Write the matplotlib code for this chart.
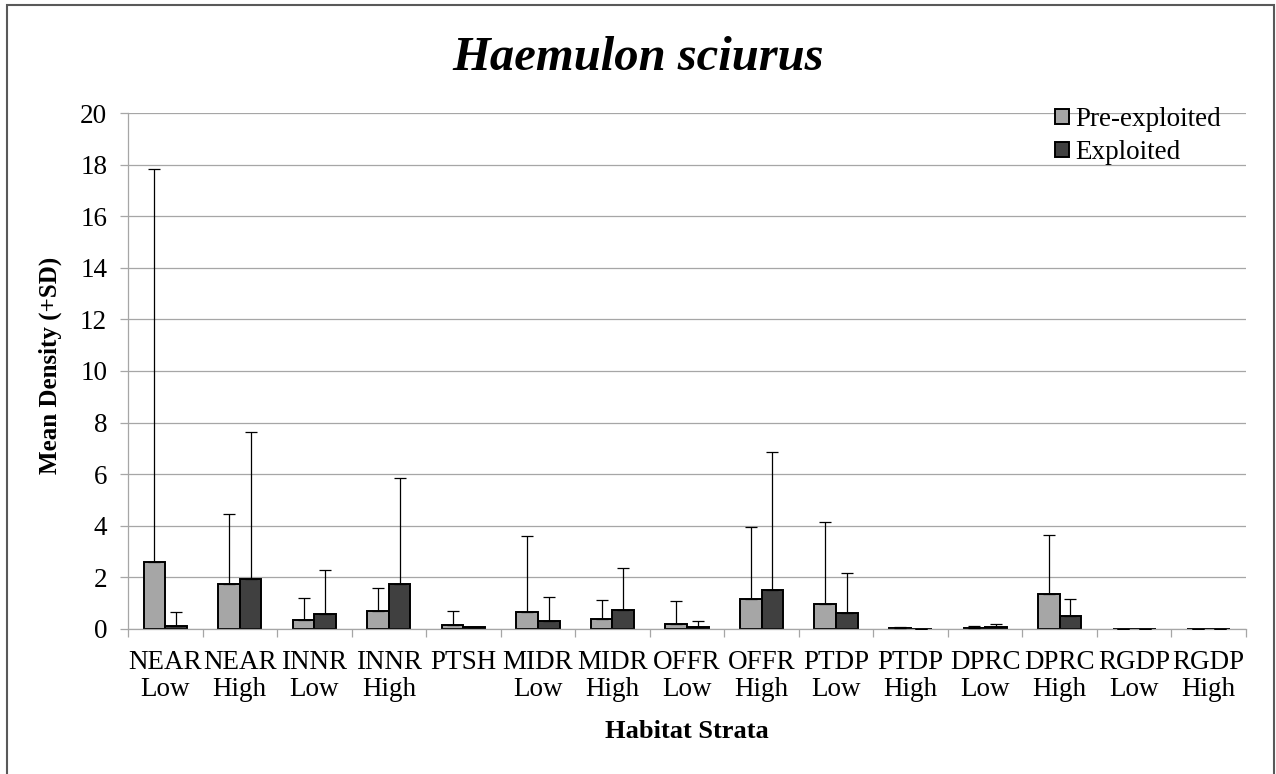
import numpy as np
import matplotlib
matplotlib.use("Agg")
import matplotlib.pyplot as plt
from matplotlib.patches import Rectangle

plt.rcParams['font.family'] = ['Liberation Serif', 'DejaVu Serif']

categories = ["NEAR\nLow", "NEAR\nHigh", "INNR\nLow", "INNR\nHigh", "PTSH",
              "MIDR\nLow", "MIDR\nHigh", "OFFR\nLow", "OFFR\nHigh", "PTDP\nLow",
              "PTDP\nHigh", "DPRC\nLow", "DPRC\nHigh", "RGDP\nLow", "RGDP\nHigh"]
pre_mean = [2.60, 1.75, 0.35, 0.69, 0.14, 0.63, 0.39, 0.18, 1.17, 0.96, 0.03, 0.04, 1.36, 0.0, 0.0]
pre_sd = [15.25, 2.70, 0.83, 0.87, 0.56, 2.97, 0.71, 0.91, 2.78, 3.19, 0.03, 0.06, 2.29, 0.0, 0.0]
exp_mean = [0.12, 1.92, 0.58, 1.72, 0.05, 0.31, 0.71, 0.07, 1.50, 0.60, 0.0, 0.05, 0.50, 0.0, 0.0]
exp_sd = [0.53, 5.73, 1.68, 4.13, 0.02, 0.92, 1.65, 0.21, 5.35, 1.57, 0.0, 0.12, 0.67, 0.0, 0.0]
series_names = ["Pre-exploited", "Exploited"]
yticks = [0, 2, 4, 6, 8, 10, 12, 14, 16, 18, 20]

W, H = 1276, 774
fig = plt.figure(figsize=(W / 100, H / 100), dpi=100)
ax = fig.add_axes([128 / W, 1 - 628.7 / H, 1118 / W, 515.4 / H])

x = np.arange(len(categories))
bw = 0.29
off = 0.145
grid_c = '#a6a6a6'
ax.set_axisbelow(True)
ax.yaxis.grid(True, color=grid_c, linewidth=0.9)

ax.bar(x - off, pre_mean, bw, color='#a6a6a6', edgecolor='black', linewidth=1.4,
       label=series_names[0], zorder=2)
ax.bar(x + off, exp_mean, bw, color='#404040', edgecolor='black', linewidth=1.4,
       label=series_names[1], zorder=2)
zeros = np.zeros(len(categories))
ax.errorbar(x - off, pre_mean, yerr=[zeros, pre_sd], fmt='none', ecolor='black',
            elinewidth=0.9, capsize=4.3, capthick=0.9, zorder=3)
ax.errorbar(x + off, exp_mean, yerr=[zeros, exp_sd], fmt='none', ecolor='black',
            elinewidth=0.9, capsize=4.3, capthick=0.9, zorder=3)

ax.set_xlim(-0.5, len(categories) - 0.5)
ax.set_ylim(0, 20)
ax.set_yticks(yticks)
ax.set_xticks(x)
ax.set_xticklabels(categories, linespacing=1.15)
ax.set_xticks(np.arange(len(categories) + 1) - 0.5, minor=True)

for s in ['top', 'right']:
    ax.spines[s].set_visible(False)
for s in ['left', 'bottom']:
    ax.spines[s].set_color(grid_c)
    ax.spines[s].set_linewidth(0.9)

ax.tick_params(axis='y', direction='out', length=6, width=0.9, color=grid_c,
               labelsize=19.5, pad=9)
ax.tick_params(axis='x', which='major', length=0, labelsize=19.5, pad=15)
ax.tick_params(axis='x', which='minor', direction='out', length=6, width=0.9, color=grid_c)

ax.set_ylabel("Mean Density (+SD)", fontsize=18, fontweight='bold', va='center')
ax.yaxis.set_label_coords(-0.0698, 0.51)
ax.set_xlabel("Habitat Strata", fontsize=19, fontweight='bold', labelpad=13)

fig.text(0.5, 1 - 70 / H, "Haemulon sciurus", fontsize=35, fontweight='bold',
         fontstyle='italic', ha='center', va='baseline')

ax.legend(loc='upper left', bbox_to_anchor=(1055 / W, 1 - 107 / H),
          bbox_transform=fig.transFigure, frameon=False, fontsize=19.5,
          handlelength=0.52, handleheight=0.5, handletextpad=0.22,
          labelspacing=0.3, borderpad=0, borderaxespad=0)

fig.patches.append(Rectangle((7 / W, -0.05), 1267 / W, 1.05 - 5 / H,
                             transform=fig.transFigure, fill=False,
                             edgecolor='#595959', linewidth=1.5))

fig.savefig("out.png", dpi=100)
